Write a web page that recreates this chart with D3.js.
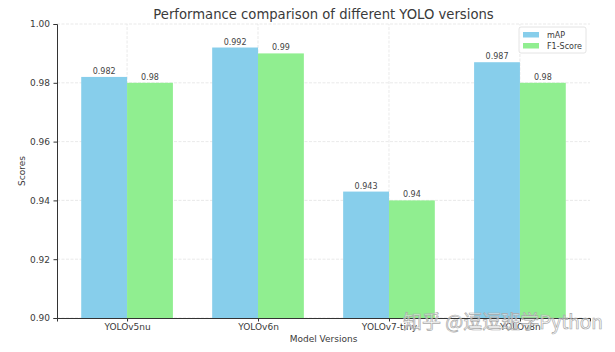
<!DOCTYPE html>
<html>
<head>
<meta charset="utf-8">
<script src="https://cdn.jsdelivr.net/npm/d3@7"></script>
<style>
  body { margin: 0; background: #fff; }
  svg { font-family: "DejaVu Sans", sans-serif; }
</style>
</head>
<body>
<svg id="chart" width="615" height="352"></svg>
<script>
const models = ["YOLOv5nu", "YOLOv6n", "YOLOv7-tiny", "YOLOv8n"];
const mapValues = [0.982, 0.992, 0.943, 0.987];
const f1Values = [0.98, 0.99, 0.94, 0.98];
const yTicks = [0.90, 0.92, 0.94, 0.96, 0.98, 1.00];
const seriesNames = ["mAP", "F1-Score"];
const seriesColors = ["#87CEEB", "#90EE90"];

let svg = d3.select("#chart");
let margin = {left: 57, right: 25, top: 24, bottom: 34};
let width = 615, height = 352;

// matplotlib style: bars at i +/- 0.35, auto margin 5%
let x = d3.scaleLinear()
    .domain([-0.535, models.length - 1 + 0.535])
    .range([margin.left, width - margin.right]);
let y = d3.scaleLinear()
    .domain([0.90, 1.00])
    .range([height - margin.bottom, margin.top]);

let barW = 0.35;

// grid
svg.append("g")
    .selectAll("line")
    .data(yTicks)
    .join("line")
    .attr("x1", x.range()[0]).attr("x2", x.range()[1])
    .attr("y1", d => y(d)).attr("y2", d => y(d))
    .attr("stroke", "#e3e3e3").attr("stroke-width", 0.8)
    .attr("stroke-dasharray", "3,1.5");
svg.append("g")
    .selectAll("line")
    .data(models)
    .join("line")
    .attr("x1", (d, i) => x(i)).attr("x2", (d, i) => x(i))
    .attr("y1", y.range()[0]).attr("y2", y.range()[1])
    .attr("stroke", "#e3e3e3").attr("stroke-width", 0.8)
    .attr("stroke-dasharray", "3,1.5");

// bars
let series = [mapValues, f1Values];
series.forEach((vals, s) => {
    let g = svg.append("g");
    g.selectAll("rect")
        .data(vals)
        .join("rect")
        .attr("x", (d, i) => x(i - barW + s * barW))
        .attr("width", x(barW) - x(0))
        .attr("y", d => y(d))
        .attr("height", d => y(0.90) - y(d))
        .attr("fill", seriesColors[s]);
    g.selectAll("text")
        .data(vals)
        .join("text")
        .attr("x", (d, i) => x(i - barW / 2 + s * barW))
        .attr("y", d => y(d) - 3)
        .attr("text-anchor", "middle")
        .attr("font-size", "8px")
        .attr("fill", "#444")
        .text(d => d);
});

// axes
let yAxis = svg.append("g")
    .attr("transform", `translate(${margin.left},0)`)
    .call(d3.axisLeft(y).tickValues(yTicks).tickFormat(d3.format(".2f")).tickSize(3.5).tickPadding(3.5));
let xAxis = svg.append("g")
    .attr("transform", `translate(0,${height - margin.bottom})`)
    .call(d3.axisBottom(x).tickValues(d3.range(models.length)).tickFormat(i => models[i]).tickSize(3.5).tickPadding(2.5));
[xAxis, yAxis].forEach(a => {
    a.select(".domain").attr("stroke", "#333").attr("stroke-width", 1);
    a.selectAll(".tick line").attr("stroke", "#333");
    a.selectAll("text").attr("font-size", "9px").attr("fill", "#3a3a3a")
        .attr("font-family", "DejaVu Sans, sans-serif");
});

// titles
svg.append("text")
    .attr("x", (x.range()[0] + x.range()[1]) / 2)
    .attr("y", 19)
    .attr("text-anchor", "middle")
    .attr("font-size", "13.2px")
    .attr("fill", "#3a3a3a")
    .text("Performance comparison of different YOLO versions");
svg.append("text")
    .attr("x", (x.range()[0] + x.range()[1]) / 2)
    .attr("y", 342)
    .attr("text-anchor", "middle")
    .attr("font-size", "9px")
    .attr("fill", "#3a3a3a")
    .text("Model Versions");
svg.append("text")
    .attr("transform", `translate(25,${(y.range()[0] + y.range()[1]) / 2}) rotate(-90)`)
    .attr("text-anchor", "middle")
    .attr("font-size", "9px")
    .attr("fill", "#3a3a3a")
    .text("Scores");

// legend
let legend = svg.append("g").attr("transform", "translate(519,27)");
legend.append("rect")
    .attr("width", 67).attr("height", 26).attr("rx", 2)
    .attr("fill", "white").attr("fill-opacity", 0.8)
    .attr("stroke", "#ddd").attr("stroke-width", 0.8);
seriesNames.forEach((n, i) => {
    legend.append("rect")
        .attr("x", 4).attr("y", 5 + i * 11)
        .attr("width", 16).attr("height", 5.5)
        .attr("fill", seriesColors[i]);
    legend.append("text")
        .attr("x", 28).attr("y", 11 + i * 11)
        .attr("font-size", "8px").attr("fill", "#3a3a3a")
        .text(n);
});

// watermark (overlaps the last tick label, as in the source image)
svg.append("text")
    .attr("x", 403).attr("y", 329)
    .attr("font-size", "19px")
    .attr("font-family", "Noto Sans CJK SC, sans-serif")
    .attr("fill", "white").attr("fill-opacity", 0.5)
    .attr("stroke", "#aaa").attr("stroke-width", 0.7)
    .text("知乎 @逗逗班学Python");
</script>
</body>
</html>
